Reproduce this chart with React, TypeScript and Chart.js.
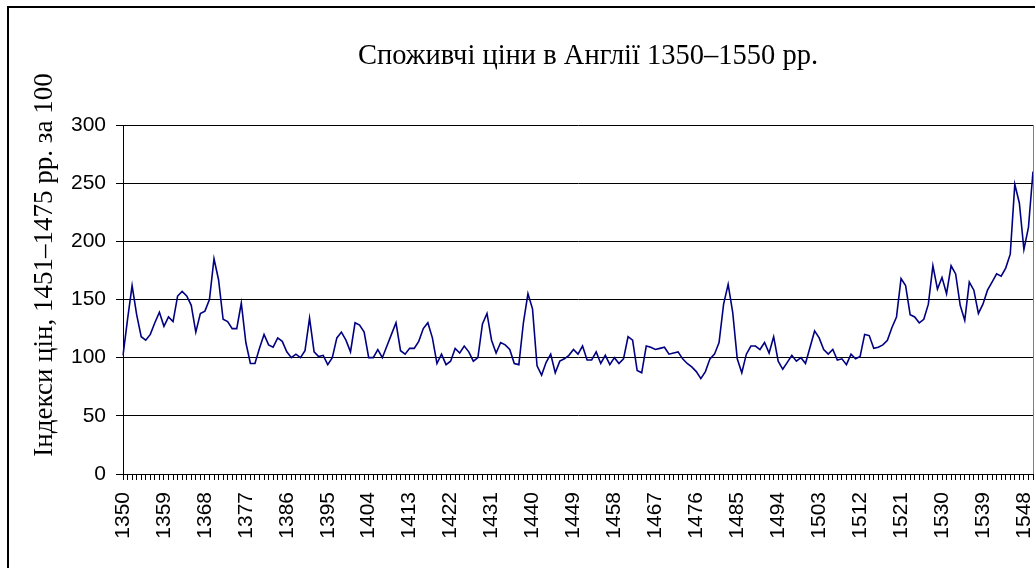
import React, { useEffect, useRef } from "react";
import { Chart, registerables } from "chart.js";

Chart.register(...registerables);

const startYear = 1350;
const endYear = 1550;
const years: string[] = [];
for (let y = startYear; y <= endYear; y++) years.push(String(y));

// Price index values, 1350–1550 (1451–1475 = 100)
const prices1350s = [102, 133, 162, 137, 118, 115, 120, 130, 139, 127];
const prices1360s = [135, 131, 153, 157, 153, 145, 122, 138, 140, 150];
const prices1370s = [185, 167, 133, 131, 125, 125, 147, 113, 95, 95];
const prices1380s = [108, 120, 111, 109, 117, 114, 105, 100, 103, 100];
const prices1390s = [106, 134, 105, 101, 102, 94, 100, 117, 122, 115];
const prices1400s = [105, 130, 128, 122, 100, 100, 107, 100, 110, 120];
const prices1410s = [130, 106, 103, 108, 108, 114, 125, 130, 117, 95];
const prices1420s = [103, 94, 97, 108, 104, 110, 105, 97, 100, 129];
const prices1430s = [138, 115, 104, 113, 111, 107, 95, 94, 130, 155];
const prices1440s = [142, 93, 85, 96, 103, 87, 97, 99, 102, 107];
const prices1450s = [103, 110, 98, 98, 105, 95, 102, 94, 100, 95];
const prices1460s = [99, 118, 115, 89, 87, 110, 109, 107, 108, 109];
const prices1470s = [103, 104, 105, 99, 95, 92, 88, 82, 88, 99];
const prices1480s = [103, 113, 146, 163, 139, 99, 87, 103, 110, 110];
const prices1490s = [107, 113, 104, 118, 97, 90, 96, 102, 97, 100];
const prices1500s = [95, 109, 123, 117, 107, 103, 107, 98, 99, 94];
const prices1510s = [103, 99, 101, 120, 119, 108, 109, 111, 115, 126];
const prices1520s = [135, 168, 162, 137, 135, 130, 133, 146, 179, 159];
const prices1530s = [169, 155, 179, 172, 145, 132, 165, 158, 138, 146];
const prices1540s = [158, 165, 172, 170, 177, 189, 249, 233, 193, 212];
const prices1550s = [260];

const prices = [
  ...prices1350s, ...prices1360s, ...prices1370s, ...prices1380s, ...prices1390s,
  ...prices1400s, ...prices1410s, ...prices1420s, ...prices1430s, ...prices1440s,
  ...prices1450s, ...prices1460s, ...prices1470s, ...prices1480s, ...prices1490s,
  ...prices1500s, ...prices1510s, ...prices1520s, ...prices1530s, ...prices1540s,
  ...prices1550s,
];

const yTicks = [0, 50, 100, 150, 200, 250, 300];
const labelEvery = 9;

const titleText = "Споживчі ціни в Англії 1350–1550 рр.";
const yTitleText = "Індекси цін, 1451–1475 рр. за 100";

const W = 1035;
const H = 568;

const decorPlugin = {
  id: "decor",
  beforeDraw(chart: any) {
    const ctx = chart.ctx;
    ctx.save();
    ctx.fillStyle = "#ffffff";
    ctx.fillRect(0, 0, chart.width, chart.height);
    ctx.restore();
  },
  afterDraw(chart: any) {
    const ctx = chart.ctx;
    const a = chart.chartArea;
    ctx.save();
    // plot-area frame (right side, grey)
    ctx.strokeStyle = "#808080";
    ctx.lineWidth = 1;
    ctx.beginPath();
    ctx.moveTo(Math.round(a.right) + 0.5, a.top);
    ctx.lineTo(Math.round(a.right) + 0.5, a.bottom);
    ctx.stroke();
    // outer chart frame
    ctx.strokeStyle = "#000000";
    ctx.lineWidth = 2;
    ctx.strokeRect(8, 7, W + 20, H + 20);
    // title
    ctx.fillStyle = "#000000";
    ctx.font = '28.5px "Liberation Serif", "Times New Roman", serif';
    ctx.textAlign = "center";
    ctx.textBaseline = "middle";
    ctx.fillText(titleText, 588, 57);
    // y-axis title
    ctx.font = '27px "Liberation Serif", "Times New Roman", serif';
    ctx.translate(45, 265);
    ctx.rotate(-Math.PI / 2);
    ctx.fillText(yTitleText, 0, 0);
    ctx.restore();
  },
};

export default function App() {
  const ref = useRef<HTMLCanvasElement | null>(null);
  useEffect(() => {
    if (!ref.current) return;
    const chart = new Chart(ref.current, {
      type: "line",
      data: {
        labels: years,
        datasets: [
          {
            data: prices,
            borderColor: "#000080",
            borderWidth: 1.6,
            pointRadius: 0,
            tension: 0,
            fill: false,
          },
        ],
      },
      options: {
        animation: false,
        responsive: false,
        devicePixelRatio: 1,
        layout: { padding: { top: 125, right: 2, left: 0, bottom: 0 } },
        plugins: {
          legend: { display: false },
          title: { display: false },
          tooltip: { enabled: false },
        },
        scales: {
          x: {
            type: "category",
            offset: false,
            afterFit: (s: any) => {
              s.height = H - 474;
              s.paddingLeft = 0;
              s.paddingRight = 0;
            },
            grid: {
              display: true,
              drawOnChartArea: false,
              drawTicks: true,
              tickLength: 6,
              color: "#000000",
            },
            border: { display: true, color: "#000000", width: 1 },
            ticks: {
              autoSkip: false,
              maxRotation: 90,
              minRotation: 90,
              padding: 12,
              color: "#000000",
              font: { family: '"Liberation Sans", Arial, sans-serif', size: 21 },
              callback: (_v: any, i: number) => (i % labelEvery === 0 ? years[i] : ""),
            },
          },
          y: {
            min: yTicks[0],
            max: yTicks[yTicks.length - 1],
            afterFit: (s: any) => {
              s.width = 123;
            },
            afterBuildTicks: (s: any) => {
              s.ticks = yTicks.map((v) => ({ value: v }));
            },
            grid: {
              display: true,
              drawOnChartArea: true,
              drawTicks: true,
              tickLength: 7,
              color: "#000000",
              lineWidth: 1,
            },
            border: { display: true, color: "#000000", width: 1 },
            ticks: {
              padding: 10,
              color: "#000000",
              font: { family: '"Liberation Sans", Arial, sans-serif', size: 21 },
            },
          },
        },
      },
      plugins: [decorPlugin],
    });
    return () => chart.destroy();
  }, []);
  return (
    <div style={{ position: "fixed", left: 0, top: 0, width: W, height: H, background: "#fff" }}>
      <canvas ref={ref} width={W} height={H} style={{ display: "block", width: W, height: H }} />
    </div>
  );
}
